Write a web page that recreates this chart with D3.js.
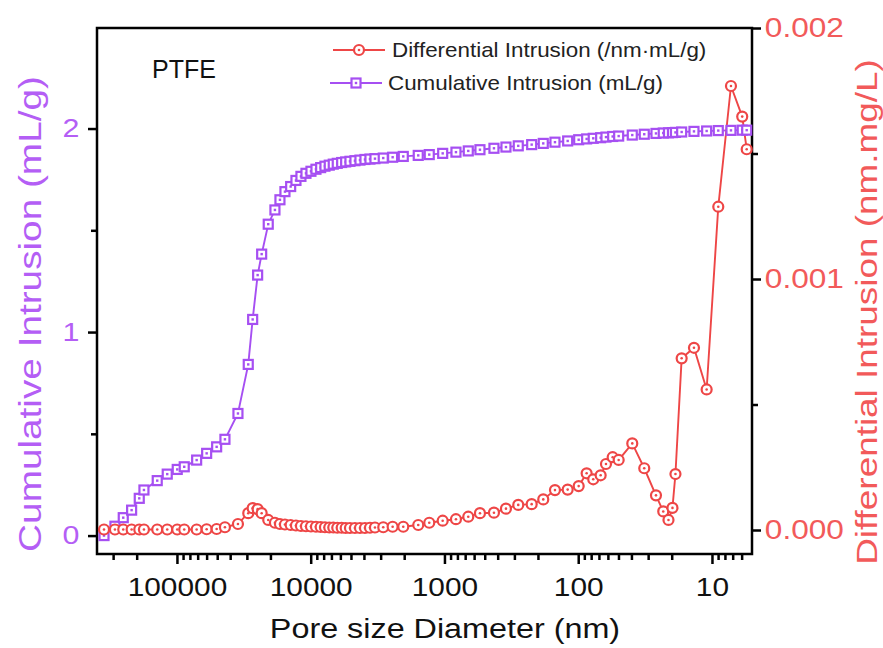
<!DOCTYPE html>
<html>
<head>
<meta charset="utf-8">
<script src="https://cdn.jsdelivr.net/npm/d3@7"></script>
<style>
  body { margin: 0; background: #fff; }
  text { font-family: "Liberation Sans", Arial, Helvetica, sans-serif; }
</style>
</head>
<body>
<svg id="chart" width="883" height="648"></svg>
<script>
// Pore size (nm), shared by both series
const poreDiameter = [
  351000, 290800, 252000, 218200, 191300, 176500, 140400, 118200, 99500, 88200,
  71230, 59970, 50490, 43770, 34990, 29300, 27160, 24930, 23260,
  20770, 18510, 16980, 15580, 14120, 12890, 11830, 10850, 9956, 9135,
  8425, 7824, 7265, 6782, 6331, 5869, 5478, 5087, 4669, 4283, 3929, 3606, 3308,
  2868, 2440, 2032, 1570, 1299, 1031, 820.4, 663.7, 542.8, 426.5,
  346.9, 280.7, 222.8, 182.5, 149.2, 119.9, 99.2, 86.5, 77.2, 67.96,
  62.0, 55.26, 49.84, 39.43, 32.08, 26.22, 23.13, 21.14, 19.74, 18.75,
  16.85, 13.63, 10.96, 8.97, 7.21, 5.94, 5.50
];

// Cumulative intrusion (mL/g), left axis
const cumulativeIntrusion = [
  0, 0.046, 0.088, 0.125, 0.183, 0.224, 0.27, 0.302, 0.325, 0.338,
  0.371, 0.404, 0.436, 0.473, 0.60, 0.841, 1.062, 1.28, 1.383,
  1.53, 1.60, 1.65, 1.69, 1.715, 1.745, 1.765, 1.78, 1.79, 1.80,
  1.808, 1.815, 1.82, 1.825, 1.829, 1.833, 1.836, 1.839, 1.842, 1.845, 1.848, 1.85, 1.852,
  1.855, 1.859, 1.863, 1.868, 1.872, 1.878, 1.884, 1.89, 1.896, 1.903,
  1.909, 1.915, 1.921, 1.927, 1.933, 1.939, 1.945, 1.949, 1.952, 1.955,
  1.958, 1.961, 1.963, 1.968, 1.972, 1.976, 1.978, 1.979, 1.98, 1.981,
  1.983, 1.986, 1.988, 1.99, 1.991, 1.992, 1.992
];

// Differential intrusion, right axis
const differentialIntrusion = [
  0.000002, 0.000002, 0.000002, 0.000002, 0.000002, 0.000002, 0.000002, 0.000002, 0.000002, 0.000002,
  0.000002, 0.000003, 0.000004, 0.000011, 0.000024, 0.000067, 0.000087, 0.000083, 0.000067,
  0.00004, 0.000029, 0.000024, 0.000022, 0.00002, 0.000018, 0.000016, 0.000015, 0.000014, 0.000013,
  0.000012, 0.000011, 0.00001, 0.00001, 0.000009, 0.000009, 0.000008, 0.000008, 0.000008, 0.000008, 0.000008, 0.000009, 0.00001,
  0.000011, 0.000013, 0.000013, 0.00002, 0.000029, 0.000037, 0.000043, 0.000053, 0.000067, 0.000069,
  0.000085, 0.0001, 0.000103, 0.000122, 0.000159, 0.000161, 0.000175, 0.000226, 0.000202, 0.000218,
  0.000263, 0.00029, 0.000279, 0.000345, 0.000246, 0.000138, 0.000074, 0.00004, 0.000088, 0.000223,
  0.000684, 0.000726, 0.00056, 0.001288, 0.001769, 0.001647, 0.001517
];

const xTickValues = [100000, 10000, 1000, 100, 10];
const xTickLabels = ["100000", "10000", "1000", "100", "10"];
const leftTickValues = [0, 1, 2];
const leftTickLabels = ["0", "1", "2"];
const rightTickValues = [0, 0.001, 0.002];
const rightTickLabels = ["0.000", "0.001", "0.002"];

const seriesNames = ["Differential Intrusion (/nm\u00b7mL/g)", "Cumulative Intrusion (mL/g)"];
const sampleName = "PTFE";
const xTitle = "Pore size Diameter (nm)";
const leftTitle = "Cumulative Intrusion (mL/g)";
const rightTitle = "Differential Intrusion (nm.mg/L)";

const purple = "#a64ff2";
const purpleText = "#b45ef5";
const red = "#ee4646";
const redText = "#f25a5a";

const box = { left: 97, right: 752, top: 28, bottom: 554 };
const stretch = 1.17;

const svg = d3.select("#chart");

const x = d3.scaleLog().domain([396000, 5.02]).range([box.left, box.right]);
const yL = d3.scaleLinear().domain([-0.0905, 2.494]).range([box.bottom, box.top]);
const yR = d3.scaleLinear().domain([-0.0000956, 0.002]).range([box.bottom, box.top]);

// minor tick values
const [xMax, xMin] = x.domain();
const xMinor = [];
for (let e = 0; e <= 6; e++) {
  for (let k = 2; k <= 9; k++) {
    const v = k * Math.pow(10, e);
    if (v > xMin && v < xMax) xMinor.push(v);
  }
}
const leftMinor = [0.5, 1.5];
const rightMinor = [0.0005, 0.0015];

function styleAxis(g) {
  g.select(".domain").remove();
  g.selectAll(".tick line").attr("stroke", "#000").attr("stroke-width", 2.5);
}

// minor ticks
svg.append("g").attr("transform", `translate(0,${box.bottom})`)
  .call(d3.axisBottom(x).tickValues(xMinor).tickSize(6).tickFormat(""))
  .call(styleAxis);
svg.append("g").attr("transform", `translate(${box.left},0)`)
  .call(d3.axisLeft(yL).tickValues(leftMinor).tickSize(6).tickFormat(""))
  .call(styleAxis);
svg.append("g").attr("transform", `translate(${box.right},0)`)
  .call(d3.axisRight(yR).tickValues(rightMinor).tickSize(6).tickFormat(""))
  .call(styleAxis);

// major ticks with labels
const gx = svg.append("g").attr("transform", `translate(0,${box.bottom})`)
  .call(d3.axisBottom(x).tickValues(xTickValues).tickSize(10).tickPadding(14)
    .tickFormat((d, i) => xTickLabels[i]))
  .call(styleAxis);
gx.selectAll(".tick text")
  .attr("font-size", 25.5).attr("fill", "#111")
  .attr("font-family", "Liberation Sans, Arial, sans-serif")
  .attr("dy", "0.71em")
  .attr("transform", `scale(${stretch},1)`);

const gl = svg.append("g").attr("transform", `translate(${box.left},0)`)
  .call(d3.axisLeft(yL).tickValues(leftTickValues).tickSize(9).tickPadding(6)
    .tickFormat((d, i) => leftTickLabels[i]))
  .call(styleAxis);
gl.selectAll(".tick text")
  .attr("font-size", 26).attr("fill", purpleText)
  .attr("font-family", "Liberation Sans, Arial, sans-serif")
  .attr("transform", `scale(${stretch},1)`);

const gr = svg.append("g").attr("transform", `translate(${box.right},0)`)
  .call(d3.axisRight(yR).tickValues(rightTickValues).tickSize(9).tickPadding(2)
    .tickFormat((d, i) => rightTickLabels[i]))
  .call(styleAxis);
gr.selectAll(".tick text")
  .attr("font-size", 27).attr("fill", redText)
  .attr("font-family", "Liberation Sans, Arial, sans-serif")
  .attr("transform", `scale(${stretch},1)`);

// frame
svg.append("rect")
  .attr("x", box.left).attr("y", box.top)
  .attr("width", box.right - box.left).attr("height", box.bottom - box.top)
  .attr("fill", "none").attr("stroke", "#000").attr("stroke-width", 2.5);

// series
const plot = svg.append("g");
const idx = d3.range(poreDiameter.length);

const lineCum = d3.line().x(i => x(poreDiameter[i])).y(i => yL(cumulativeIntrusion[i]));
const lineDiff = d3.line().x(i => x(poreDiameter[i])).y(i => yR(differentialIntrusion[i]));

plot.append("path").attr("d", lineCum(idx))
  .attr("fill", "none").attr("stroke", purple).attr("stroke-width", 1.9);
plot.append("path").attr("d", lineDiff(idx))
  .attr("fill", "none").attr("stroke", red).attr("stroke-width", 1.9);

function squareMarker(g, cx, cy) {
  g.append("rect").attr("x", cx - 4.5).attr("y", cy - 4.5).attr("width", 9).attr("height", 9)
    .attr("fill", "#fff").attr("stroke", purple).attr("stroke-width", 2.2);
  g.append("rect").attr("x", cx - 1.2).attr("y", cy - 1.2).attr("width", 2.4).attr("height", 2.4)
    .attr("fill", purple);
}
function circleMarker(g, cx, cy) {
  g.append("circle").attr("cx", cx).attr("cy", cy).attr("r", 5)
    .attr("fill", "#fff").attr("stroke", red).attr("stroke-width", 2.2);
  g.append("circle").attr("cx", cx).attr("cy", cy).attr("r", 1.3).attr("fill", red);
}

const cumMarks = plot.append("g");
idx.forEach(i => squareMarker(cumMarks, x(poreDiameter[i]), yL(cumulativeIntrusion[i])));
const diffMarks = plot.append("g");
idx.forEach(i => circleMarker(diffMarks, x(poreDiameter[i]), yR(differentialIntrusion[i])));

// sample label
svg.append("text").attr("x", 152).attr("y", 78)
  .attr("font-size", 25).attr("fill", "#111").text(sampleName);

// legend
const legend = svg.append("g");
legend.append("line").attr("x1", 333).attr("x2", 385).attr("y1", 50).attr("y2", 50)
  .attr("stroke", red).attr("stroke-width", 1.9);
circleMarker(legend, 359, 50);
legend.append("text").attr("x", 392).attr("y", 57).attr("font-size", 20)
  .attr("fill", "#222").attr("transform", "translate(392,0) scale(1.12,1) translate(-392,0)")
  .text(seriesNames[0]);
legend.append("line").attr("x1", 330).attr("x2", 382).attr("y1", 83).attr("y2", 83)
  .attr("stroke", purple).attr("stroke-width", 1.9);
squareMarker(legend, 356, 83);
legend.append("text").attr("x", 388).attr("y", 90).attr("font-size", 20)
  .attr("fill", "#222").attr("transform", "translate(388,0) scale(1.12,1) translate(-388,0)")
  .text(seriesNames[1]);

// axis titles
svg.append("text")
  .attr("transform", `translate(445,638) scale(1.155,1)`)
  .attr("text-anchor", "middle").attr("font-size", 28).attr("fill", "#111")
  .text(xTitle);

svg.append("text")
  .attr("transform", `translate(41,314) rotate(-90) scale(1.25,1)`)
  .attr("text-anchor", "middle").attr("font-size", 31).attr("fill", purpleText)
  .text(leftTitle);

svg.append("text")
  .attr("transform", `translate(877,312) rotate(-90) scale(1.23,1)`)
  .attr("text-anchor", "middle").attr("font-size", 30).attr("fill", redText)
  .text(rightTitle);
</script>
</body>
</html>
